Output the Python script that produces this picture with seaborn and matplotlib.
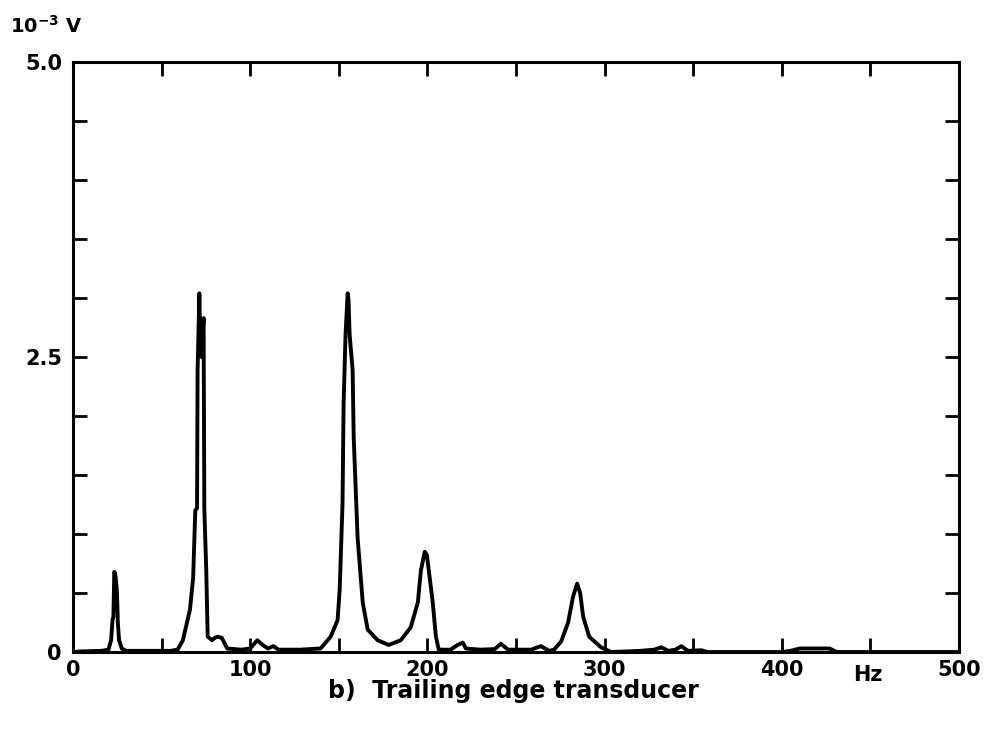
import matplotlib
matplotlib.use("Agg")
import matplotlib.pyplot as plt
import seaborn as sns
import pandas as pd

# Espectro (Hz, 10^-3 V)
freq_hz = [0, 4, 16, 20, 21.5, 22.3, 22.8, 23.3, 23.8, 24.3, 24.8, 25.3, 26, 27.5, 30,
           40, 55, 59, 62, 66, 67.8, 69, 70, 70.3, 70.8, 71.3, 71.8, 72.6, 73.2, 73.7,
           74.1, 75.2, 76, 78.5, 80, 81.5, 84, 87, 95, 100, 104, 107, 110, 113, 116,
           128, 139.7, 145.4, 149.3, 150.5, 152.1, 152.7, 153.8, 155, 155.5, 156.1,
           157.8, 158.4, 160.6, 163.5, 166.3, 171.9, 178.2, 185, 190.6, 194.6, 196.3,
           198.5, 199.7, 200.8, 203, 204.8, 206.4, 213, 217, 220, 221.7, 230, 238,
           241.5, 245.5, 258.5, 264, 268.7, 271.5, 275.5, 279.4, 282.2, 284.5, 286.2,
           287.9, 291.3, 298, 303.7, 320, 328, 332, 336, 340, 343.3, 347, 354.6, 358,
           400, 405, 410, 420, 427, 431, 500]
amp_mv = [0.0, 0.005, 0.01, 0.02, 0.1, 0.27, 0.3, 0.68, 0.66, 0.6, 0.5, 0.25, 0.1, 0.03, 0.01,
          0.01, 0.01, 0.02, 0.10, 0.36, 0.63, 1.2, 1.22, 2.39, 2.7, 3.04, 2.67, 2.5, 2.7, 2.83,
          1.22, 0.69, 0.13, 0.10, 0.12, 0.13, 0.12, 0.03, 0.02, 0.03, 0.10, 0.06, 0.03, 0.05, 0.02,
          0.02, 0.03, 0.13, 0.27, 0.53, 1.26, 2.1, 2.69, 3.04, 2.98, 2.69,
          2.39, 1.82, 0.97, 0.42, 0.19, 0.10, 0.06, 0.10, 0.21, 0.42, 0.69,
          0.85, 0.82, 0.69, 0.42, 0.13, 0.02, 0.02, 0.06, 0.08, 0.03, 0.02, 0.025,
          0.07, 0.02, 0.02, 0.05, 0.01, 0.02, 0.09, 0.25, 0.47, 0.58, 0.50,
          0.30, 0.13, 0.04, 0.0, 0.01, 0.02, 0.04, 0.01, 0.02, 0.05, 0.01, 0.015, 0.0,
          0.0, 0.01, 0.03, 0.03, 0.03, 0.0, 0.0]

xticks = [0, 100, 200, 300, 400, 500]
xminor = [50, 150, 250, 350, 450]
yticks = [0, 2.5, 5.0]
ytick_labels = ["0", "2.5", "5.0"]
yminor = [0.5, 1.0, 1.5, 2.0, 3.0, 3.5, 4.0, 4.5]

df = pd.DataFrame({"freq": freq_hz, "amp": amp_mv})

sns.set_theme(style="ticks")
plt.rcParams["font.family"] = ["DejaVu Sans"]
plt.rcParams["text.color"] = "black"

fig = plt.figure(figsize=(9.84, 7.30), dpi=100)
ax = fig.add_axes([0.0742, 0.1068, 0.9004, 0.8082])

sns.lineplot(data=df, x="freq", y="amp", color="black", linewidth=2.8,
             estimator=None, sort=False, ax=ax)

ax.set_xlim(0, 500)
ax.set_ylim(0, 5.0)
ax.set_xticks(xticks)
ax.set_xticklabels([str(t) for t in xticks], fontsize=15, fontweight="bold")
ax.set_xticks(xminor, minor=True)
ax.set_yticks(yticks)
ax.set_yticklabels(ytick_labels, fontsize=15, fontweight="bold")
ax.set_yticks(yminor, minor=True)

# ticks internos em todos os lados
ax.tick_params(axis="both", which="both", direction="in", width=2, length=10,
               color="black", labelcolor="black", top=True, right=True)
ax.tick_params(axis="x", which="major", pad=6)
ax.tick_params(axis="y", which="major", pad=8)

for s in ax.spines.values():
    s.set_linewidth(2.2)
    s.set_color("black")

ax.set_xlabel("")
ax.set_ylabel("")

fig.text(0.01, 0.965, r"$\mathbf{10^{-3}}$ V", fontsize=14, fontweight="bold",
         ha="left", va="center")
fig.text(868 / 984, 1 - 675 / 730, "Hz", fontsize=15, fontweight="bold",
         ha="center", va="center")
fig.text(513 / 984, 1 - 691 / 730, "b)  Trailing edge transducer", fontsize=17,
         fontweight="bold", ha="center", va="center")

fig.savefig("out.png", dpi=100)
plt.close(fig)
